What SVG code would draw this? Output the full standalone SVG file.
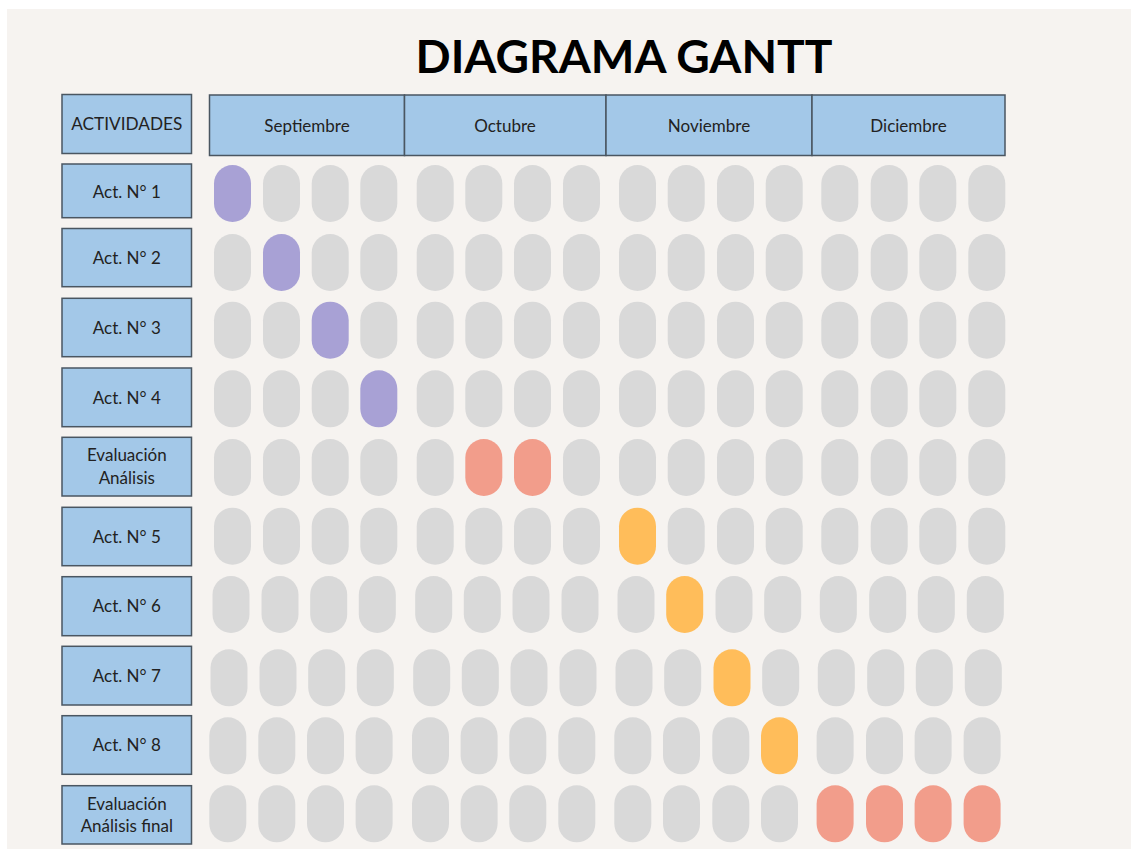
<svg xmlns="http://www.w3.org/2000/svg" width="1131" height="852" viewBox="0 0 1131 852">
<style>
.bg{fill:#f6f3f0}
.box{fill:#a3c8e8;stroke:#4a5661;stroke-width:1.5}
.lbl{font-family:Lato,"Noto Sans","Liberation Sans",sans-serif;font-size:17px;fill:#222;text-anchor:middle}
.title{font-family:Lato,"Noto Sans","Liberation Sans",sans-serif;font-weight:bold;font-size:45px;fill:#000;text-anchor:middle}
.p{fill:#d9d9d9}
.pu{fill:#a8a1d5}
.sa{fill:#f29d8b}
.or{fill:#ffbd5a}
</style>
<defs>
<rect id="pill" width="37" height="57" rx="18.5"/>
</defs>
<rect x="0" y="0" width="1131" height="852" fill="#ffffff"/>
<rect class="bg" x="7" y="9" width="1124" height="840"/>
<text class="title" x="624" y="73" textLength="417" lengthAdjust="spacingAndGlyphs">DIAGRAMA GANTT</text>

<g id="header">
<rect class="box" x="62" y="94.5" width="129.5" height="59"/>
<text class="lbl" x="126.8" y="130" textLength="111" lengthAdjust="spacingAndGlyphs">ACTIVIDADES</text>
<rect class="box" x="209.5" y="95" width="195" height="60.5"/>
<rect class="box" x="404.5" y="95" width="201.5" height="60.5"/>
<rect class="box" x="606" y="95" width="206" height="60.5"/>
<rect class="box" x="812" y="95" width="193" height="60.5"/>
<text class="lbl" x="307" y="132">Septiembre</text>
<text class="lbl" x="505" y="132">Octubre</text>
<text class="lbl" x="709" y="132">Noviembre</text>
<text class="lbl" x="908.5" y="132">Diciembre</text>
</g>

<g id="row1">
<rect class="box" x="62" y="164" width="129.5" height="53.7"/>
<text class="lbl" x="126.8" y="198">Act. N° 1</text>
<g transform="translate(0,165)">
<use href="#pill" x="214" class="pu"/><use href="#pill" x="263" class="p"/><use href="#pill" x="311.7" class="p"/><use href="#pill" x="360.3" class="p"/>
<use href="#pill" x="416.7" class="p"/><use href="#pill" x="465.3" class="p"/><use href="#pill" x="514" class="p"/><use href="#pill" x="563" class="p"/>
<use href="#pill" x="619" class="p"/><use href="#pill" x="667.7" class="p"/><use href="#pill" x="717" class="p"/><use href="#pill" x="765.7" class="p"/>
<use href="#pill" x="821.3" class="p"/><use href="#pill" x="870.7" class="p"/><use href="#pill" x="919.3" class="p"/><use href="#pill" x="968.3" class="p"/>
</g>
</g>

<g id="row2">
<rect class="box" x="62" y="228.5" width="129.5" height="58.2"/>
<text class="lbl" x="126.8" y="263.5">Act. N° 2</text>
<g transform="translate(0,234)">
<use href="#pill" x="214" class="p"/><use href="#pill" x="263" class="pu"/><use href="#pill" x="311.7" class="p"/><use href="#pill" x="360.3" class="p"/>
<use href="#pill" x="416.7" class="p"/><use href="#pill" x="465.3" class="p"/><use href="#pill" x="514" class="p"/><use href="#pill" x="563" class="p"/>
<use href="#pill" x="619" class="p"/><use href="#pill" x="667.7" class="p"/><use href="#pill" x="717" class="p"/><use href="#pill" x="765.7" class="p"/>
<use href="#pill" x="821.3" class="p"/><use href="#pill" x="870.7" class="p"/><use href="#pill" x="919.3" class="p"/><use href="#pill" x="968.3" class="p"/>
</g>
</g>

<g id="row3">
<rect class="box" x="62" y="298.3" width="129.5" height="58.4"/>
<text class="lbl" x="126.8" y="333.5">Act. N° 3</text>
<g transform="translate(0,301.7)">
<use href="#pill" x="214" class="p"/><use href="#pill" x="263" class="p"/><use href="#pill" x="311.7" class="pu"/><use href="#pill" x="360.3" class="p"/>
<use href="#pill" x="416.7" class="p"/><use href="#pill" x="465.3" class="p"/><use href="#pill" x="514" class="p"/><use href="#pill" x="563" class="p"/>
<use href="#pill" x="619" class="p"/><use href="#pill" x="667.7" class="p"/><use href="#pill" x="717" class="p"/><use href="#pill" x="765.7" class="p"/>
<use href="#pill" x="821.3" class="p"/><use href="#pill" x="870.7" class="p"/><use href="#pill" x="919.3" class="p"/><use href="#pill" x="968.3" class="p"/>
</g>
</g>

<g id="row4">
<rect class="box" x="62" y="368" width="129.5" height="58.7"/>
<text class="lbl" x="126.8" y="403.5">Act. N° 4</text>
<g transform="translate(0,370.3)">
<use href="#pill" x="214" class="p"/><use href="#pill" x="263" class="p"/><use href="#pill" x="311.7" class="p"/><use href="#pill" x="360.3" class="pu"/>
<use href="#pill" x="416.7" class="p"/><use href="#pill" x="465.3" class="p"/><use href="#pill" x="514" class="p"/><use href="#pill" x="563" class="p"/>
<use href="#pill" x="619" class="p"/><use href="#pill" x="667.7" class="p"/><use href="#pill" x="717" class="p"/><use href="#pill" x="765.7" class="p"/>
<use href="#pill" x="821.3" class="p"/><use href="#pill" x="870.7" class="p"/><use href="#pill" x="919.3" class="p"/><use href="#pill" x="968.3" class="p"/>
</g>
</g>

<g id="row5">
<rect class="box" x="62" y="437.3" width="129.5" height="58.7"/>
<text class="lbl" x="126.8" y="460.7">Evaluación</text>
<text class="lbl" x="126.8" y="484">Análisis</text>
<g transform="translate(0,439)">
<use href="#pill" x="214" class="p"/><use href="#pill" x="263" class="p"/><use href="#pill" x="311.7" class="p"/><use href="#pill" x="360.3" class="p"/>
<use href="#pill" x="416.7" class="p"/><use href="#pill" x="465.3" class="sa"/><use href="#pill" x="514" class="sa"/><use href="#pill" x="563" class="p"/>
<use href="#pill" x="619" class="p"/><use href="#pill" x="667.7" class="p"/><use href="#pill" x="717" class="p"/><use href="#pill" x="765.7" class="p"/>
<use href="#pill" x="821.3" class="p"/><use href="#pill" x="870.7" class="p"/><use href="#pill" x="919.3" class="p"/><use href="#pill" x="968.3" class="p"/>
</g>
</g>

<g id="row6">
<rect class="box" x="62" y="507.3" width="129.5" height="58.4"/>
<text class="lbl" x="126.8" y="542.5">Act. N° 5</text>
<g transform="translate(0,507.7)">
<use href="#pill" x="214" class="p"/><use href="#pill" x="263" class="p"/><use href="#pill" x="311.7" class="p"/><use href="#pill" x="360.3" class="p"/>
<use href="#pill" x="416.7" class="p"/><use href="#pill" x="465.3" class="p"/><use href="#pill" x="514" class="p"/><use href="#pill" x="563" class="p"/>
<use href="#pill" x="619" class="or"/><use href="#pill" x="667.7" class="p"/><use href="#pill" x="717" class="p"/><use href="#pill" x="765.7" class="p"/>
<use href="#pill" x="821.3" class="p"/><use href="#pill" x="870.7" class="p"/><use href="#pill" x="919.3" class="p"/><use href="#pill" x="968.3" class="p"/>
</g>
</g>

<g id="row7">
<rect class="box" x="62" y="576.7" width="129.5" height="59"/>
<text class="lbl" x="126.8" y="612">Act. N° 6</text>
<g transform="translate(-1.5,576)">
<use href="#pill" x="214" class="p"/><use href="#pill" x="263" class="p"/><use href="#pill" x="311.7" class="p"/><use href="#pill" x="360.3" class="p"/>
<use href="#pill" x="416.7" class="p"/><use href="#pill" x="465.3" class="p"/><use href="#pill" x="514" class="p"/><use href="#pill" x="563" class="p"/>
<use href="#pill" x="619" class="p"/><use href="#pill" x="667.7" class="or"/><use href="#pill" x="717" class="p"/><use href="#pill" x="765.7" class="p"/>
<use href="#pill" x="821.3" class="p"/><use href="#pill" x="870.7" class="p"/><use href="#pill" x="919.3" class="p"/><use href="#pill" x="968.3" class="p"/>
</g>
</g>

<g id="row8">
<rect class="box" x="62" y="646.3" width="129.5" height="58.7"/>
<text class="lbl" x="126.8" y="681.5">Act. N° 7</text>
<g transform="translate(-3.5,649.3)">
<use href="#pill" x="214" class="p"/><use href="#pill" x="263" class="p"/><use href="#pill" x="311.7" class="p"/><use href="#pill" x="360.3" class="p"/>
<use href="#pill" x="416.7" class="p"/><use href="#pill" x="465.3" class="p"/><use href="#pill" x="514" class="p"/><use href="#pill" x="563" class="p"/>
<use href="#pill" x="619" class="p"/><use href="#pill" x="667.7" class="p"/><use href="#pill" x="717" class="or"/><use href="#pill" x="765.7" class="p"/>
<use href="#pill" x="821.3" class="p"/><use href="#pill" x="870.7" class="p"/><use href="#pill" x="919.3" class="p"/><use href="#pill" x="968.3" class="p"/>
</g>
</g>

<g id="row9">
<rect class="box" x="62" y="715.7" width="129.5" height="58.6"/>
<text class="lbl" x="126.8" y="751">Act. N° 8</text>
<g transform="translate(-4.7,717.3)">
<use href="#pill" x="214" class="p"/><use href="#pill" x="263" class="p"/><use href="#pill" x="311.7" class="p"/><use href="#pill" x="360.3" class="p"/>
<use href="#pill" x="416.7" class="p"/><use href="#pill" x="465.3" class="p"/><use href="#pill" x="514" class="p"/><use href="#pill" x="563" class="p"/>
<use href="#pill" x="619" class="p"/><use href="#pill" x="667.7" class="p"/><use href="#pill" x="717" class="p"/><use href="#pill" x="765.7" class="or"/>
<use href="#pill" x="821.3" class="p"/><use href="#pill" x="870.7" class="p"/><use href="#pill" x="919.3" class="p"/><use href="#pill" x="968.3" class="p"/>
</g>
</g>

<g id="row10">
<rect class="box" x="62" y="785.7" width="129.5" height="58.3"/>
<text class="lbl" x="126.8" y="810">Evaluación</text>
<text class="lbl" x="126.8" y="832.3">Análisis final</text>
<g transform="translate(-4.7,785.3)">
<use href="#pill" x="214" class="p"/><use href="#pill" x="263" class="p"/><use href="#pill" x="311.7" class="p"/><use href="#pill" x="360.3" class="p"/>
<use href="#pill" x="416.7" class="p"/><use href="#pill" x="465.3" class="p"/><use href="#pill" x="514" class="p"/><use href="#pill" x="563" class="p"/>
<use href="#pill" x="619" class="p"/><use href="#pill" x="667.7" class="p"/><use href="#pill" x="717" class="p"/><use href="#pill" x="765.7" class="p"/>
<use href="#pill" x="821.3" class="sa"/><use href="#pill" x="870.7" class="sa"/><use href="#pill" x="919.3" class="sa"/><use href="#pill" x="968.3" class="sa"/>
</g>
</g>
</svg>
